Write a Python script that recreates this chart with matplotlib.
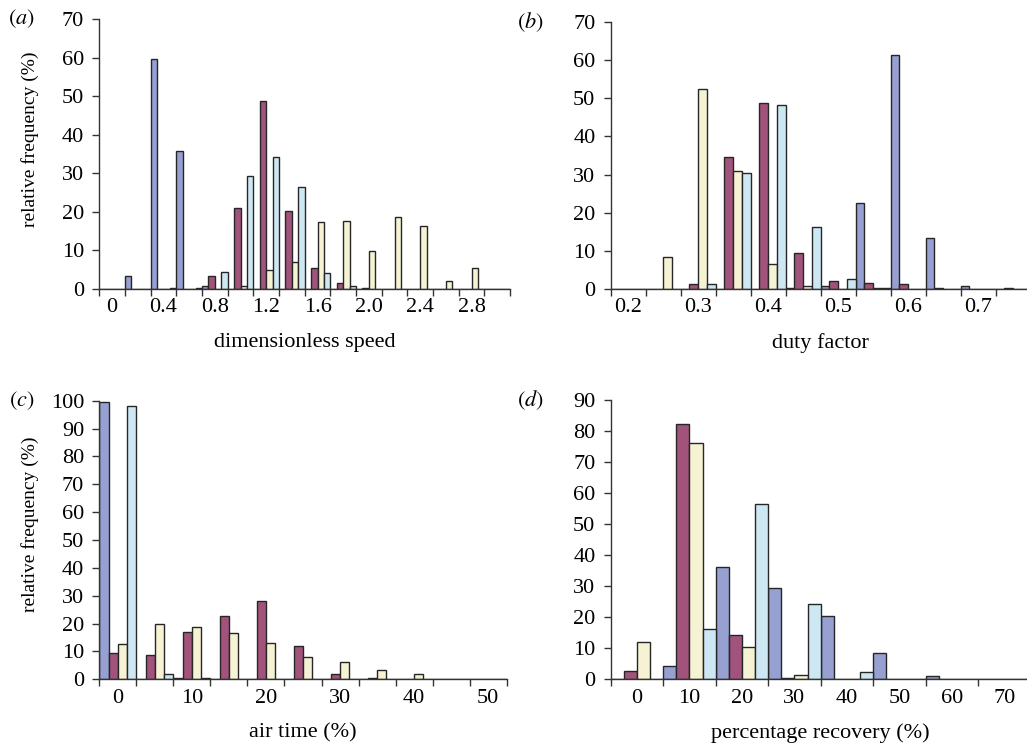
import matplotlib
matplotlib.use("Agg")
import matplotlib.pyplot as plt

# series colours: blue, maroon, yellow, light blue
colors = ["#97a1d1", "#a1537b", "#f5f3d3", "#cde8f3"]

# (a) dimensionless speed, bins of 0.2 starting at 0
speed_labels = ["0", "0.4", "0.8", "1.2", "1.6", "2.0", "2.4", "2.8"]
speed_blue = [0, 3.2, 59.7, 35.8, 0.8, 0, 0, 0, 0, 0, 0, 0, 0, 0, 0, 0]
speed_maroon = [0, 0, 0, 0, 3.2, 20.9, 48.6, 20.2, 5.4, 1.6, 0.3, 0, 0, 0, 0, 0]
speed_yellow = [0, 0, 0, 0, 0, 0.8, 4.8, 6.9, 17.3, 17.6, 9.9, 18.5, 16.4,
                2.0, 5.4, 0]
speed_cyan = [0, 0, 0.3, 0.3, 4.4, 29.2, 34.2, 26.3, 4.1, 0.8, 0, 0, 0, 0, 0, 0]

# (b) duty factor, bins of 0.05 starting at 0.2
duty_labels = ["0.2", "0.3", "0.4", "0.5", "0.6", "0.7"]
duty_blue = [0, 0, 0, 0, 0, 0.3, 0.8, 22.5, 61.3, 13.3, 0.8, 0]
duty_maroon = [0, 0, 1.1, 34.6, 48.7, 9.5, 2.0, 1.6, 1.1, 0.3, 0, 0.3]
duty_yellow = [0, 8.2, 52.5, 30.8, 6.6, 0.8, 0, 0.3, 0, 0, 0, 0]
duty_cyan = [0, 0, 1.1, 30.4, 48.4, 16.2, 2.5, 0.3, 0, 0, 0, 0]

# (c) air time, bins of 5 %
air_labels = ["0", "10", "20", "30", "40", "50"]
air_blue = [99.6, 0, 0.3, 0, 0, 0, 0, 0, 0, 0, 0]
air_maroon = [9.6, 8.6, 17.1, 22.8, 28.0, 12.0, 1.8, 0.4, 0, 0, 0]
air_yellow = [12.6, 20.0, 18.9, 16.5, 13.2, 8.1, 6.3, 3.5, 1.8, 0, 0]
air_cyan = [98.0, 1.8, 0.4, 0, 0, 0, 0, 0, 0, 0, 0]

# (d) percentage recovery, bins of 10 %
rec_labels = ["0", "10", "20", "30", "40", "50", "60", "70"]
rec_blue = [0, 4.2, 36.1, 29.4, 20.4, 8.5, 0.9, 0]
rec_maroon = [2.7, 82.3, 14.2, 0.4, 0, 0, 0, 0]
rec_yellow = [12.1, 76.0, 10.5, 1.4, 0, 0, 0, 0]
rec_cyan = [0, 16.1, 56.6, 24.2, 2.3, 0, 0, 0]

plt.rcParams["font.family"] = ["Liberation Serif", "DejaVu Serif"]
plt.rcParams["mathtext.fontset"] = "stix"
plt.rcParams["font.size"] = 16


def grouped_hist(ax, series, labels, label_step, ymax, xlabel, letter,
                 ylabel=None):
    nbins = len(series[0])
    width = 1.0 / len(series)
    for num, (vals, color) in enumerate(zip(series, colors)):
        xs = [i + num * width for i in range(nbins)]
        ax.bar(xs, vals, width=width, align="edge", color=color,
               edgecolor="#262626", linewidth=1.0, zorder=2)

    ax.set_xlim(0, nbins)
    ax.set_ylim(0, ymax)
    ax.set_xticks(range(nbins + 1))
    ax.set_xticklabels([])
    centers = [i + 0.5 for i in range(0, nbins, label_step)][:len(labels)]
    ax.set_xticks(centers, labels, minor=True)
    ax.tick_params(axis="x", which="minor", length=0, pad=7, labelsize=16)
    ax.tick_params(axis="x", which="major", length=5, width=1,
                   direction="out", color="#333333")
    ax.set_yticks(range(0, ymax + 1, 10))
    ax.tick_params(axis="y", length=5, width=1, direction="out", pad=6,
                   color="#333333", labelsize=16)

    for side in ["top", "right"]:
        ax.spines[side].set_visible(False)
    for side in ["left", "bottom"]:
        ax.spines[side].set_color("#333333")
        ax.spines[side].set_linewidth(1.0)

    ax.set_xlabel(xlabel, labelpad=11, fontsize=16)
    if ylabel is not None:
        ax.set_ylabel(ylabel, fontsize=14)
        ax.yaxis.set_label_coords(-0.147, 0.555)

    ax.text(-0.19, 1.0, "$({})$".format(letter), transform=ax.transAxes,
            ha="center", va="center", fontsize=16)


fig = plt.figure(figsize=(10.27, 7.51), dpi=100)
ax_a = fig.add_axes([0.0967, 0.6156, 0.400, 0.359])
ax_b = fig.add_axes([0.5946, 0.6156, 0.409, 0.3547])
ax_c = fig.add_axes([0.0967, 0.0955, 0.3967, 0.3709])
ax_d = fig.add_axes([0.5946, 0.0955, 0.409, 0.3719])

grouped_hist(ax_a, [speed_blue, speed_maroon, speed_yellow, speed_cyan],
             speed_labels, 2, 70, "dimensionless speed", "a",
             ylabel="relative frequency (%)")
grouped_hist(ax_b, [duty_blue, duty_maroon, duty_yellow, duty_cyan],
             duty_labels, 2, 70, "duty factor", "b")
grouped_hist(ax_c, [air_blue, air_maroon, air_yellow, air_cyan],
             air_labels, 2, 100, "air time (%)", "c",
             ylabel="relative frequency (%)")
grouped_hist(ax_d, [rec_blue, rec_maroon, rec_yellow, rec_cyan],
             rec_labels, 1, 90, "percentage recovery (%)", "d")

fig.savefig("out.png", dpi=100)
